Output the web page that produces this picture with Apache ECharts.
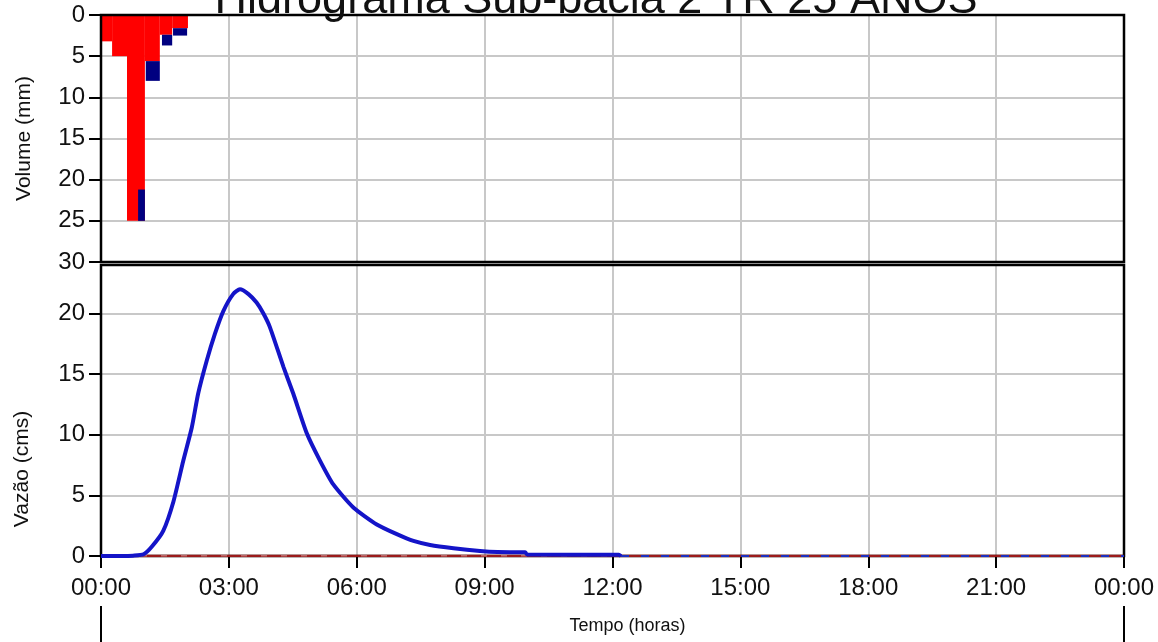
<!DOCTYPE html>
<html>
<head>
<meta charset="utf-8">
<script src="https://cdn.jsdelivr.net/npm/echarts@6/dist/echarts.min.js"></script>
<style>
html,body{margin:0;padding:0;background:#fff;}
#chart{width:1158px;height:642px;}
</style>
</head>
<body>
<div id="chart"></div>
<script>
// ---- Data ----
const titleText = 'Hidrograma Sub-bacia 2 TR 25 ANOS';
const timeLabels = ['00:00','03:00','06:00','09:00','12:00','15:00','18:00','21:00','00:00'];

// Hyetograph (mm), blocks in hours
const rainStart = [0, 0.26, 0.61, 1.03, 1.38, 1.67];
const rainEnd   = [0.26, 0.61, 1.03, 1.38, 1.67, 2.04];
const rainDepth = [3.2, 5.0, 25.0, 5.6, 2.4, 1.6];

// Loss portion (blue)
const lossStart = [0.87, 1.05, 1.43, 1.69];
const lossEnd   = [1.03, 1.38, 1.67, 2.02];
const lossFrom  = [21.2, 5.6, 2.4, 1.6];
const lossTo    = [25.0, 8.0, 3.7, 2.5];

// Hydrograph (cms)
const flowTime = [0, 0.5, 0.75, 1.0, 1.2, 1.46, 1.70, 1.93, 2.13, 2.28, 2.48, 2.67, 2.87, 3.10, 3.26, 3.46, 3.65, 3.81, 3.96, 4.28, 4.51, 4.83, 5.14, 5.45, 5.92, 6.47, 6.94, 7.33, 7.72, 8.27, 8.89, 9.3, 9.95, 10.0, 12.15, 12.2];
const flowValue = [0, 0, 0.03, 0.14, 0.8, 2.07, 4.5, 7.85, 10.6, 13.4, 16.1, 18.3, 20.2, 21.6, 22.0, 21.6, 20.9, 20.0, 18.9, 15.6, 13.4, 10.1, 7.85, 5.9, 4.0, 2.6, 1.8, 1.24, 0.91, 0.64, 0.41, 0.32, 0.3, 0.12, 0.1, 0];

// ---- Chart ----
const chart = echarts.init(document.getElementById('chart'), null, {renderer:'canvas'});

function barItem(params, api) {
  const a = api.coord([api.value(0), api.value(2)]);
  const b = api.coord([api.value(1), api.value(3)]);
  return {
    type: 'rect',
    shape: {
      x: Math.min(a[0], b[0]), y: Math.min(a[1], b[1]),
      width: Math.abs(b[0] - a[0]), height: Math.abs(b[1] - a[1])
    },
    style: { fill: api.visual('color') }
  };
}

const rainData = rainStart.map((s, i) => [s, rainEnd[i], 0, rainDepth[i]]);
const lossData = lossStart.map((s, i) => [s, lossEnd[i], lossFrom[i], lossTo[i]]);
const flowData = flowTime.map((t, i) => [t, flowValue[i]]);

const gridLine = { lineStyle: { color: '#c8c8c8', width: 2 } };
const black = { color: '#000', width: 2 };
const font = 'Liberation Sans, Arial, sans-serif';

chart.setOption({
  animation: false,
  textStyle: { fontFamily: font },
  graphic: [
    { type: 'text', x: 596, y: 23, z: 100,
      style: { text: titleText, fontSize: 45, fontFamily: font, fill: '#111', align: 'center', verticalAlign: 'bottom' } },
    { type: 'text', x: 22, y: 469, rotation: Math.PI / 2, z: 100,
      style: { text: 'Vazão (cms)', fontSize: 21, fontFamily: font, fill: '#111', align: 'center', verticalAlign: 'middle' } }
  ],
  grid: [
    { left: 101, right: 34, top: 15, height: 247, show: true, borderColor: '#000', borderWidth: 2.5, z: 10 },
    { left: 101, right: 34, top: 265, height: 291, show: true, borderColor: '#000', borderWidth: 2.5, z: 10 }
  ],
  xAxis: [
    { gridIndex: 0, type: 'value', min: 0, max: 24, interval: 3,
      axisLine: { show: false }, axisTick: { show: false }, axisLabel: { show: false },
      splitLine: gridLine },
    { gridIndex: 1, type: 'value', min: 0, max: 24, interval: 3,
      axisLine: { show: true, onZero: false, lineStyle: black },
      axisTick: { show: true, length: 12, lineStyle: black },
      axisLabel: { fontSize: 24, color: '#111', margin: 20,
        formatter: v => timeLabels[Math.round(v / 3)] },
      splitLine: gridLine },
    { gridIndex: 1, type: 'value', min: 0, max: 24, interval: 24, position: 'bottom', offset: 50,
      axisLine: { show: false, onZero: false }, axisTick: { show: true, length: 40, lineStyle: black },
      axisLabel: { show: false }, splitLine: { show: false },
      name: 'Tempo (horas)', nameLocation: 'middle', nameGap: 11,
      nameTextStyle: { fontSize: 18, color: '#111', padding: [0, 0, 0, 30] } }
  ],
  yAxis: [
    { gridIndex: 0, type: 'value', inverse: true, min: 0, max: 30, interval: 5,
      axisLine: { show: true, lineStyle: black },
      axisTick: { show: true, length: 12, lineStyle: black },
      axisLabel: { fontSize: 24, color: '#111', margin: 16 },
      splitLine: gridLine,
      name: 'Volume (mm)', nameLocation: 'middle', nameGap: 66,
      nameTextStyle: { fontSize: 21, color: '#111' } },
    { gridIndex: 1, type: 'value', min: 0, max: 24, interval: 5,
      axisLine: { show: true, lineStyle: black },
      axisTick: { show: true, length: 12, lineStyle: black },
      axisLabel: { fontSize: 24, color: '#111', margin: 16, showMaxLabel: false,
        formatter: v => (v % 5 === 0 ? String(v) : '') },
      splitLine: gridLine }
  ],
  series: [
    { type: 'custom', name: 'Precipitação efetiva', xAxisIndex: 0, yAxisIndex: 0,
      renderItem: barItem, itemStyle: { color: '#ff0000' },
      encode: { x: [0, 1], y: [2, 3] }, data: rainData, z: 3 },
    { type: 'custom', name: 'Perdas', xAxisIndex: 0, yAxisIndex: 0,
      renderItem: barItem, itemStyle: { color: '#000080' },
      encode: { x: [0, 1], y: [2, 3] }, data: lossData, z: 4 },
    { type: 'line', xAxisIndex: 1, yAxisIndex: 1, data: [[0, 0], [24, 0]],
      showSymbol: false, lineStyle: { color: '#9b1b1b', width: 2.5 }, z: 11 },
    { type: 'line', xAxisIndex: 1, yAxisIndex: 1, data: [[0, 0], [12.2, 0]],
      showSymbol: false, lineStyle: { color: '#ffffff', width: 1, type: [6, 14], opacity: 0.7 }, z: 12 },
    { type: 'line', xAxisIndex: 1, yAxisIndex: 1, data: [[12.2, 0], [24, 0]],
      showSymbol: false, lineStyle: { color: '#1f2fbf', width: 2, type: [8, 12] }, z: 12 },
    { type: 'line', name: 'Vazão', xAxisIndex: 1, yAxisIndex: 1, data: flowData,
      showSymbol: false, smooth: 0.2, lineStyle: { color: '#1414c8', width: 4 }, z: 13 }
  ]
});
</script>
</body>
</html>
